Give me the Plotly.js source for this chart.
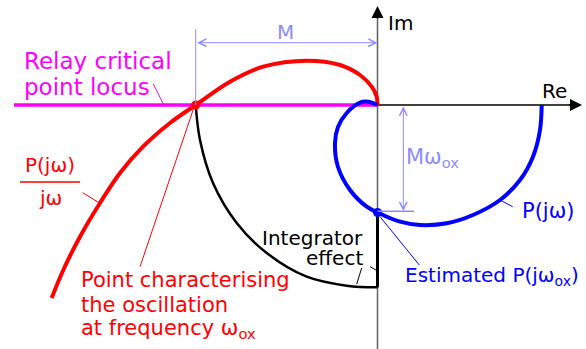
<!DOCTYPE html>
<html>
<head>
<meta charset="utf-8">
<script src="https://cdn.plot.ly/plotly-3.0.1.min.js"></script>
<style>
  html, body { margin: 0; padding: 0; background: #fff; }
  #plot { width: 586px; height: 349px; }
</style>
</head>
<body>
<div id="plot"></div>
<script>
// Nyquist plane, units (origin at Re=0, Im=0)
const redRe = [0, -0.008, -0.058, -0.175, -0.375, -0.708, -1.142, -1.475, -1.818, -2.075, -2.345, -2.575, -2.775, -2.975, -3.142, -3.258];
const redIm = [0, 0.083, 0.183, 0.30, 0.40, 0.443, 0.383, 0.233, 0, -0.18, -0.417, -0.68, -0.98, -1.317, -1.65, -1.93];

const blueRe = [0, -0.095, -0.175, -0.308, -0.395, -0.425, -0.395, -0.275, -0.108, 0, 0.225, 0.425, 0.692, 0.955, 1.225, 1.425, 1.555, 1.625, 1.642];
const blueIm = [0, 0.033, 0.023, -0.08, -0.22, -0.38, -0.62, -0.85, -1.017, -1.075, -1.167, -1.20, -1.183, -1.10, -0.95, -0.75, -0.517, -0.25, 0];

const arcRe = [-1.818, -1.775, -1.645, -1.408, -1.108, -0.708, -0.308, 0];
const arcIm = [0, -0.35, -0.78, -1.18, -1.48, -1.717, -1.807, -1.823];

const integratorRe = [0, 0];
const integratorIm = [-1.823, -1.075];

const locusRe = [-3.635, 0];
const locusIm = [0, 0];

const criticalPoint = [-1.818, 0];
const estimatedPoint = [0, -1.075];

const lightBlue = '#8c8cff';
const font = 'DejaVu Sans, Verdana, sans-serif';

const data = [
  { x: locusRe, y: locusIm, mode: 'lines', line: { color: '#ff00ff', width: 3.5 }, hoverinfo: 'skip' },
  { x: arcRe, y: arcIm, mode: 'lines', line: { color: 'black', width: 2.5, shape: 'spline' }, hoverinfo: 'skip' },
  { x: integratorRe, y: integratorIm, mode: 'lines', line: { color: 'black', width: 3 }, hoverinfo: 'skip' },
  { x: redRe, y: redIm, mode: 'lines', line: { color: '#ff0000', width: 4, shape: 'spline', smoothing: 1 }, hoverinfo: 'skip' },
  { x: blueRe, y: blueIm, mode: 'lines', line: { color: '#0000ff', width: 4, shape: 'spline' }, hoverinfo: 'skip' },
  { x: [criticalPoint[0]], y: [criticalPoint[1]], mode: 'markers', marker: { color: '#ff0000', size: 9 } },
  { x: [estimatedPoint[0]], y: [estimatedPoint[1]], mode: 'markers', marker: { color: '#0000ff', size: 9 } },
];

function seg(x0, y0, x1, y1, color, width) {
  return { type: 'line', x0: x0, y0: y0, x1: x1, y1: y1, line: { color: color, width: width || 1 } };
}

const shapes = [
  // axes
  Object.assign(seg(0, -2.44, 0, 0.95, '#606060', 1.5), { layer: 'below' }),
  Object.assign(seg(0, 0, 2.0, 0, 'black', 1.5), { layer: 'below' }),
  // M dimension guide
  seg(-1.818, 0.757, -1.818, 0, lightBlue, 1),
  // Mw_ox tick
  seg(0, -1.063, 0.365, -1.063, lightBlue, 1.5),
  // leaders
  seg(-2.242, 0.21, -2.142, 0.01, '#ff00ff', 1),
  seg(-2.948, -0.877, -2.775, -0.983, '#ff0000', 1),
  seg(-2.375, -1.617, -1.835, -0.023, '#ff0000', 1),
  seg(-0.158, -1.63, -0.208, -1.79, 'black', 1),
  seg(-0.075, -1.617, -0.015, -1.65, 'black', 1),
  seg(1.225, -0.95, 1.352, -1.017, '#0000ff', 1),
  seg(0.025, -1.117, 0.418, -1.60, '#0000ff', 1),
  // fraction bar
  seg(-3.575, -0.77, -2.975, -0.77, '#ff0000', 1.5),
];

function txt(x, y, text, color, anchor, size) {
  return {
    x: x, y: y, text: text, showarrow: false, xanchor: anchor || 'left', yanchor: 'middle',
    font: { family: font, size: size || 20, color: color }
  };
}

const annotations = [
  // axis arrowheads
  { x: 0, y: 0.99, ax: 0, ay: 0.85, axref: 'x', ayref: 'y', showarrow: true, arrowhead: 2, arrowsize: 1.6, arrowwidth: 1.5, arrowcolor: 'black', text: '' },
  { x: 2.045, y: 0, ax: 1.9, ay: 0, axref: 'x', ayref: 'y', showarrow: true, arrowhead: 2, arrowsize: 1.6, arrowwidth: 1.5, arrowcolor: 'black', text: '' },
  // M arrow
  { x: 0, y: 0.623, ax: -1.818, ay: 0.623, axref: 'x', ayref: 'y', showarrow: true, arrowhead: 5, startarrowhead: 5, arrowside: 'end+start', arrowsize: 1.5, startarrowsize: 1.5, arrowwidth: 1, arrowcolor: lightBlue, text: '' },
  // Mw_ox arrow
  { x: 0.258, y: -1.06, ax: 0.258, ay: 0, axref: 'x', ayref: 'y', showarrow: true, arrowhead: 5, startarrowhead: 5, arrowside: 'end+start', arrowsize: 1.5, startarrowsize: 1.5, arrowwidth: 1, arrowcolor: lightBlue, text: '' },
  txt(-0.925, 0.73, 'M', lightBlue, 'center'),
  txt(0.085, 0.82, 'Im', 'black'),
  txt(1.625, 0.14, 'Re', 'black'),
  txt(0.26, -0.53, 'Mω<sub>ox</sub>', lightBlue, 'left', 21),
  txt(-3.56, 0.44, 'Relay critical', '#ff00ff', 'left', 23),
  txt(-3.56, 0.18, 'point locus', '#ff00ff', 'left', 23),
  txt(-3.275, -0.60, 'P(jω)', '#ff0000', 'center'),
  txt(-3.275, -0.93, 'jω', '#ff0000', 'center'),
  txt(-2.99, -1.75, 'Point characterising', '#ff0000', 'left', 21),
  txt(-2.99, -1.995, 'the oscillation', '#ff0000', 'left', 21),
  txt(-2.99, -2.24, 'at frequency ω<sub>ox</sub>', '#ff0000', 'left', 21),
  txt(-0.125, -1.33, 'Integrator', 'black', 'right'),
  txt(-0.125, -1.53, 'effect', 'black', 'right'),
  txt(1.425, -1.06, 'P(jω)', '#0000ff', 'left', 21),
  txt(0.25, -1.71, 'Estimated P(jω<sub>ox</sub>)', '#0000ff'),
];

const layout = {
  width: 586,
  height: 349,
  margin: { l: 0, r: 0, t: 0, b: 0 },
  paper_bgcolor: 'white',
  plot_bgcolor: 'white',
  showlegend: false,
  xaxis: { range: [-3.775, 2.085], visible: false, fixedrange: true },
  yaxis: { range: [-2.44, 1.05], visible: false, fixedrange: true },
  shapes: shapes,
  annotations: annotations,
};

Plotly.newPlot('plot', data, layout, { staticPlot: true });
</script>
</body>
</html>
